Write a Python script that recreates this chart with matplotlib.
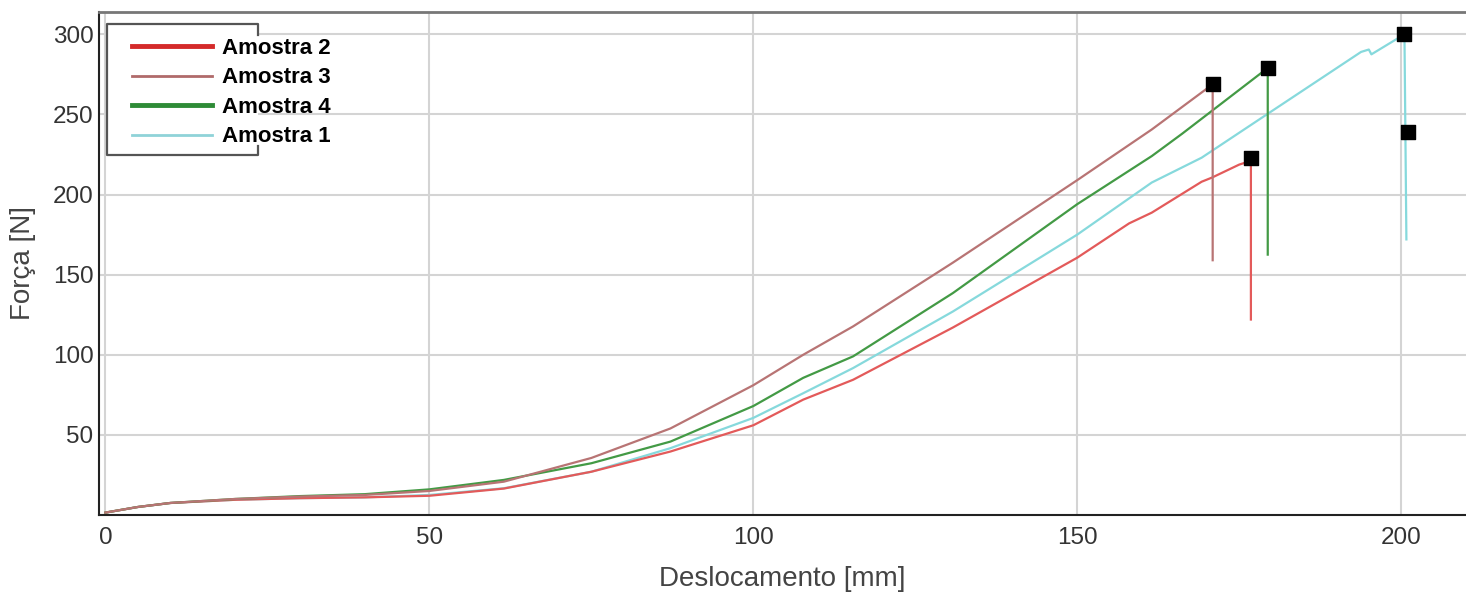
import matplotlib
matplotlib.use('Agg')
import matplotlib.pyplot as plt
from matplotlib.lines import Line2D
from matplotlib.patches import Rectangle

plt.rcParams['font.family'] = ['Liberation Sans', 'DejaVu Sans']

# Amostra 2 (red)
x_a2 = [0, 5, 10, 20, 30, 40, 50, 61.5, 75, 87.2, 100, 107.7, 115.4, 130.8, 150, 158, 161.5, 169.2, 170.8, 175, 176.8, 176.8]
y_a2 = [1.5, 5, 7.5, 9.5, 10.5, 11, 12, 16.5, 27, 39.6, 56, 72, 84.4, 117, 160.6, 182, 188.7, 208, 210.6, 218.7, 221, 122]
# Amostra 3 (brown)
x_a3 = [0, 5, 10, 20, 30, 40, 50, 61.5, 75, 87.2, 100, 107.7, 115.4, 130.8, 150, 161.5, 170.9, 170.9]
y_a3 = [1.5, 5, 7.5, 10, 11.5, 12.5, 15, 20.8, 35.6, 54, 81, 100, 117.7, 157.5, 209, 240.6, 268.8, 159]
# Amostra 4 (green)
x_a4 = [0, 5, 10, 20, 30, 40, 50, 61.5, 75, 87.2, 100, 107.7, 115.4, 130.8, 150, 161.5, 166.2, 179.4, 179.4]
y_a4 = [1.5, 5, 7.5, 10, 11.8, 13, 16, 21.9, 32.3, 45.8, 68, 85.6, 99, 138.5, 194, 224, 238, 279, 162.5]
# Amostra 1 (cyan)
x_a1 = [0, 5, 10, 20, 30, 40, 50, 61.5, 75, 87.2, 100, 107.7, 115.4, 130.8, 150, 161.5, 169.2, 180, 193.8, 195, 195.4, 200.5, 200.8]
y_a1 = [1.5, 5, 7.5, 9.5, 10.5, 11, 12.5, 16.7, 27, 41.7, 60.6, 76, 91.7, 127, 175, 207.5, 223, 252, 289, 290.5, 287.5, 300, 172]

# black square markers (peaks)
mark_x = [176.8, 170.9, 179.4, 200.5, 201.0]
mark_y = [223, 268.8, 279, 300, 239]

labels = ['Amostra 2', 'Amostra 3', 'Amostra 4', 'Amostra 1']
x_ticks = [0, 50, 100, 150, 200]
y_ticks = [50, 100, 150, 200, 250, 300]

W, H = 1466, 594
fig = plt.figure(figsize=(W / 100, H / 100), dpi=100)
ax = fig.add_axes([0.0675, 0.133, 0.9325, 0.847])

ax.plot(x_a1, y_a1, color='#86d9dc', lw=1.6)
ax.plot(x_a2, y_a2, color='#e35a5a', lw=1.6)
ax.plot(x_a4, y_a4, color='#439a45', lw=1.6)
ax.plot(x_a3, y_a3, color='#b87474', lw=1.6)
ax.scatter(mark_x, mark_y, marker='s', s=110, color='black', zorder=5)

ax.set_xlim(-1, 210)
ax.set_ylim(0, 314)
ax.set_xticks(x_ticks)
ax.set_yticks(y_ticks)
ax.grid(True, color='#d4d4d4', lw=1.5)
ax.set_axisbelow(True)
ax.tick_params(length=0, labelsize=17.5, colors='#333333')
ax.tick_params(axis='x', pad=9)
ax.tick_params(axis='y', pad=4)

ax.spines['right'].set_visible(False)
ax.spines['top'].set_color('#777777')
ax.spines['top'].set_linewidth(2)
ax.spines['left'].set_color('#222222')
ax.spines['left'].set_linewidth(1.5)
ax.spines['bottom'].set_color('#222222')
ax.spines['bottom'].set_linewidth(1.5)

ax.set_xlabel('Deslocamento [mm]', fontsize=20, color='#444444', labelpad=12)
ax.set_ylabel('Força [N]', fontsize=20, color='#444444', labelpad=12)

# legend box (frame narrower than the text, as in the original)
bx0, bx1, by0, by1 = 107 / W, 258 / W, 1 - 155 / H, 1 - 24 / H
ax.add_patch(Rectangle((bx0, by0), bx1 - bx0, by1 - by0, transform=fig.transFigure,
                       facecolor='white', edgecolor='none', zorder=7, clip_on=False))
frame_x = [258, 258, 107, 107, 258, 258]
frame_y = [35, 24, 24, 155, 155, 146]
ax.add_line(Line2D([v / W for v in frame_x], [1 - v / H for v in frame_y],
                   transform=fig.transFigure, color='#555555', lw=1.6, zorder=8, clip_on=False))

handles = [
    Line2D([0], [0], color='#d42a2a', lw=3.5),
    Line2D([0], [0], color='#b06a6a', lw=2),
    Line2D([0], [0], color='#2e8b36', lw=3.5),
    Line2D([0], [0], color='#8fd3d8', lw=2),
]
leg = ax.legend(handles, labels, loc='upper left', bbox_to_anchor=(132 / W, 1 - 38 / H),
                bbox_transform=fig.transFigure, frameon=False, borderpad=0, borderaxespad=0,
                handlelength=3.6, handletextpad=0.45, labelspacing=0.38,
                prop={'weight': 'bold', 'size': 16})
leg.set_zorder(9)

fig.savefig('out.png', dpi=100)
